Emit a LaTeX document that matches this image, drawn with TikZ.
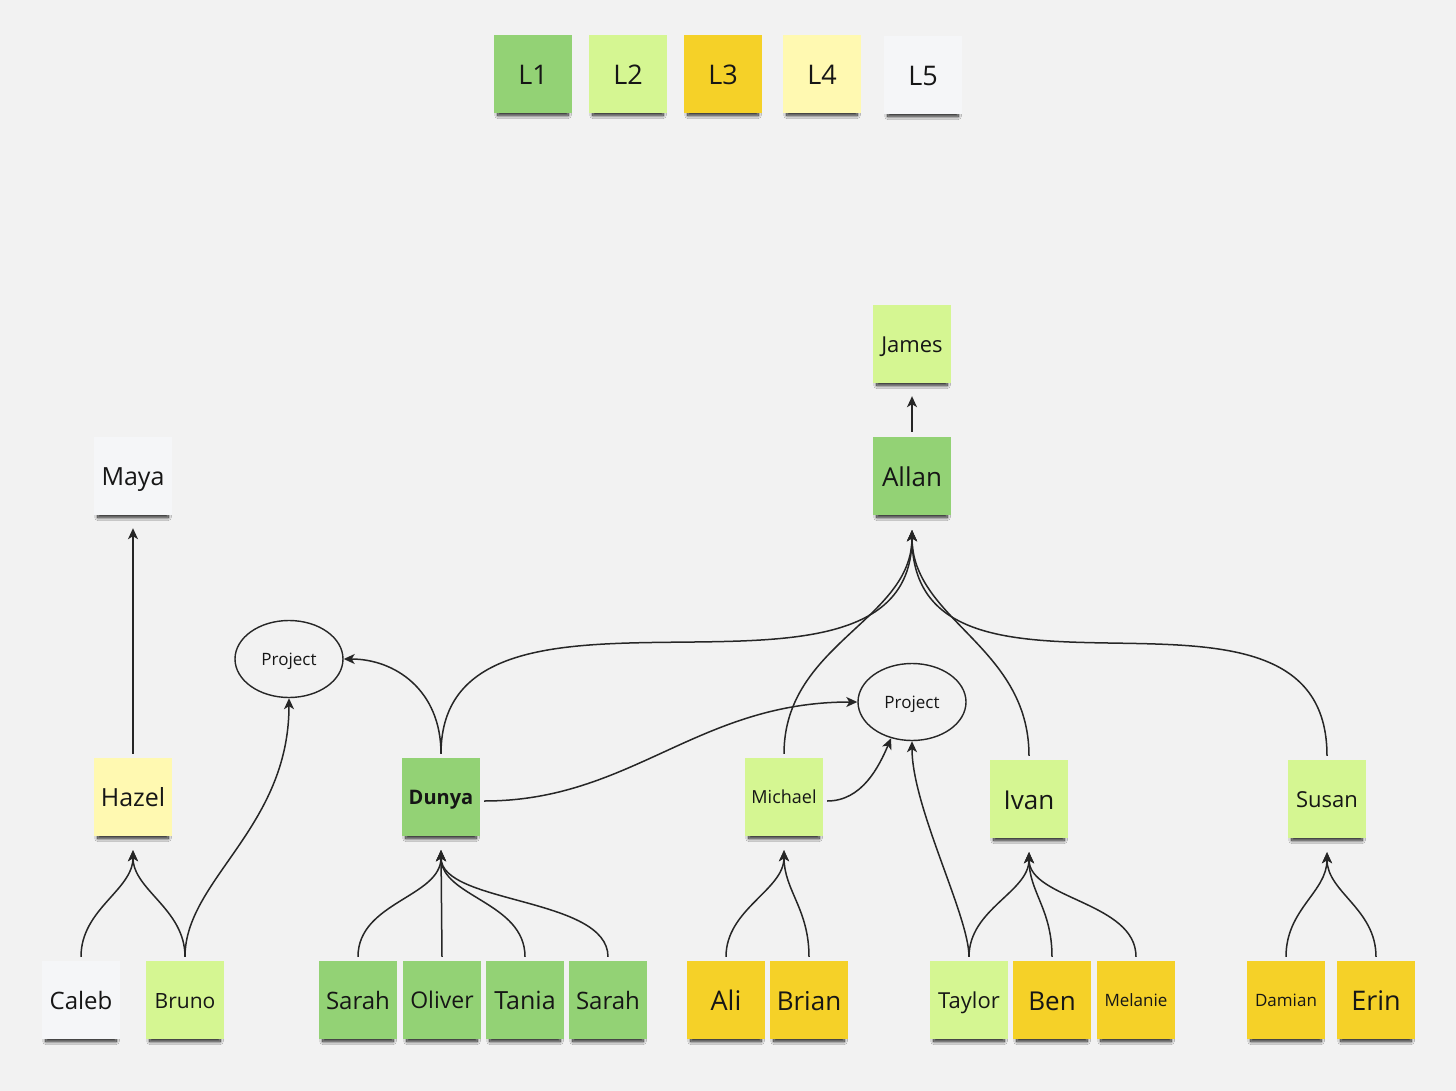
\documentclass[tikz,border=0pt]{standalone}
\usepackage{fontspec}
\setmainfont{Open Sans}
\usetikzlibrary{arrows.meta,shapes.geometric,shadows.blur}
\definecolor{bg}{HTML}{F2F2F2}
\definecolor{cLone}{HTML}{93D275}
\definecolor{cLtwo}{HTML}{D5F692}
\definecolor{cLthree}{HTML}{F5D128}
\definecolor{cLfour}{HTML}{FFF9B1}
\definecolor{cLfive}{HTML}{F5F6F8}
\definecolor{ink}{HTML}{161616}
\definecolor{wire}{HTML}{262626}
\newcommand\sz[1]{\fontsize{#1}{#1}\selectfont}
\newcommand\linebox{\rule[-0.293em]{0pt}{1.362em}}
\tikzset{
  note/.style={rectangle, minimum width=78pt, minimum height=78pt, inner sep=0pt, text=ink,
    execute at begin node=\linebox,
    blur shadow={shadow xshift=0pt, shadow yshift=-7pt, shadow scale=0.9, shadow opacity=90, shadow blur radius=3.5pt, shadow blur steps=12}},
  lone/.style={note, fill=cLone},
  ltwo/.style={note, fill=cLtwo},
  lthree/.style={note, fill=cLthree},
  lfour/.style={note, fill=cLfour},
  lfive/.style={note, fill=cLfive},
  proj/.style={ellipse, draw=wire, line width=1.4pt, minimum width=108pt, minimum height=77pt, inner sep=0pt, text=ink, font=\sz{17}, execute at begin node=\linebox},
  link/.style={draw=wire, line width=1.5pt, -{Stealth[length=11pt,width=10pt,inset=3pt]}},
}
\begin{document}
\begin{tikzpicture}[x=1pt,y=-1pt]
\useasboundingbox (0,0) rectangle (1456,1091);
\fill[bg] (0,0) rectangle (1456,1091);
% legend
\node[lone,  font=\sz{27}] (lgone)   at (533,74) {L1};
\node[ltwo,  font=\sz{27}] (lgtwo)   at (628,74) {L2};
\node[lthree,font=\sz{27}] (lgthree) at (723,74) {L3};
\node[lfour, font=\sz{27}] (lgfour)  at (822,74) {L4};
\node[lfive, font=\sz{27}] (lgfive)  at (923,75) {L5};
% upper notes
\node[ltwo, font=\sz{22}] (james) at (912,344) {James};
\node[lone, font=\sz{26}] (allan) at (912,476) {Allan};
\node[lfive,font=\sz{25}] (maya)  at (133,476) {Maya};
\node[lfour,font=\sz{25}] (hazel) at (133,797) {Hazel};
\node[lone, font=\sz{20}\bfseries] (dunya) at (441,797) {Dunya};
\node[ltwo, font=\sz{18}] (michael) at (784,797) {Michael};
\node[ltwo, font=\sz{26}] (ivan)  at (1029,799) {Ivan};
\node[ltwo, font=\sz{22}] (susan) at (1327,799) {Susan};
% projects
\node[proj] (projl) at (289,659) {Project};
\node[proj] (projr) at (912,702) {Project};
% bottom row
\node[lfive, font=\sz{24}] (caleb)  at (81,1000)  {Caleb};
\node[ltwo,  font=\sz{21}] (bruno)  at (185,1000) {Bruno};
\node[lone,  font=\sz{24}] (sarahA) at (358,1000) {Sarah};
\node[lone,  font=\sz{23}] (oliver) at (442,1000) {Oliver};
\node[lone,  font=\sz{25}] (tania)  at (525,1000) {Tania};
\node[lone,  font=\sz{24}] (sarahB) at (608,1000) {Sarah};
\node[lthree,font=\sz{27}] (ali)    at (726,1000) {Ali};
\node[lthree,font=\sz{26}] (brian)  at (809,1000) {Brian};
\node[ltwo,  font=\sz{22}] (taylor) at (969,1000) {Taylor};
\node[lthree,font=\sz{26}] (ben)    at (1052,1000) {Ben};
\node[lthree,font=\sz{17}] (melanie) at (1136,1000) {Melanie};
\node[lthree,font=\sz{17}] (damian) at (1286,1000) {Damian};
\node[lthree,font=\sz{27}] (erin)   at (1376,1000) {Erin};
% connectors
\draw[link] ([yshift=4pt]hazel.north) -- ([yshift=-13pt]maya.south);
\draw[link] ([yshift=5pt]allan.north) -- ([yshift=-13pt]james.south);
\draw[link] ([yshift=4pt]caleb.north) .. controls +(0,-48) and +(0,40) .. ([yshift=-14pt]hazel.south);
\draw[link] ([yshift=4pt]bruno.north) .. controls +(0,-48) and +(0,40) .. ([yshift=-14pt]hazel.south);
\draw[link] ([yshift=4pt]bruno.north) .. controls +(0,-77) and +(0,130) .. (projl.south);
\draw[link] ([yshift=4pt]dunya.north) .. controls +(0,-64) and +(51,0) .. (projl.east);
\draw[link] ([yshift=4pt]dunya.north) .. controls +(0,-216) and +(0,214) .. ([yshift=-15pt]allan.south);
\draw[link] ([yshift=4pt]michael.north) .. controls +(0,-110) and +(0,90) .. ([yshift=-15pt]allan.south);
\draw[link] ([yshift=4pt]ivan.north) .. controls +(0,-110) and +(0,90) .. ([yshift=-15pt]allan.south);
\draw[link] ([yshift=4pt]susan.north) .. controls +(0,-216) and +(0,214) .. ([yshift=-15pt]allan.south);
\draw[link] ([xshift=4pt,yshift=-4pt]dunya.east) .. controls +(147,0) and +(-160,0) .. (projr.west);
\draw[link] ([xshift=4pt,yshift=-4pt]michael.east) .. controls +(35,0) and +(-12,28) .. (projr.240);
\draw[link] ([yshift=4pt]taylor.north) .. controls +(0,-41) and +(0,66) .. (projr.south);
\draw[link] ([yshift=4pt]sarahA.north) .. controls +(0,-55) and +(0,47) .. ([yshift=-14pt]dunya.south);
\draw[link] ([yshift=4pt]oliver.north) -- ([yshift=-14pt]dunya.south);
\draw[link] ([yshift=4pt]tania.north) .. controls +(0,-55) and +(0,47) .. ([yshift=-14pt]dunya.south);
\draw[link] ([yshift=4pt]sarahB.north) .. controls +(0,-60) and +(0,54) .. ([yshift=-14pt]dunya.south);
\draw[link] ([yshift=4pt]ali.north) .. controls +(0,-48) and +(0,40) .. ([yshift=-14pt]michael.south);
\draw[link] ([yshift=4pt]brian.north) .. controls +(0,-48) and +(0,40) .. ([yshift=-14pt]michael.south);
\draw[link] ([yshift=4pt]taylor.north) .. controls +(0,-48) and +(0,40) .. ([yshift=-14pt]ivan.south);
\draw[link] ([yshift=4pt]ben.north) .. controls +(0,-48) and +(0,40) .. ([yshift=-14pt]ivan.south);
\draw[link] ([yshift=4pt]melanie.north) .. controls +(0,-55) and +(0,47) .. ([yshift=-14pt]ivan.south);
\draw[link] ([yshift=4pt]damian.north) .. controls +(0,-48) and +(0,40) .. ([yshift=-14pt]susan.south);
\draw[link] ([yshift=4pt]erin.north) .. controls +(0,-48) and +(0,40) .. ([yshift=-14pt]susan.south);
\end{tikzpicture}
\end{document}
